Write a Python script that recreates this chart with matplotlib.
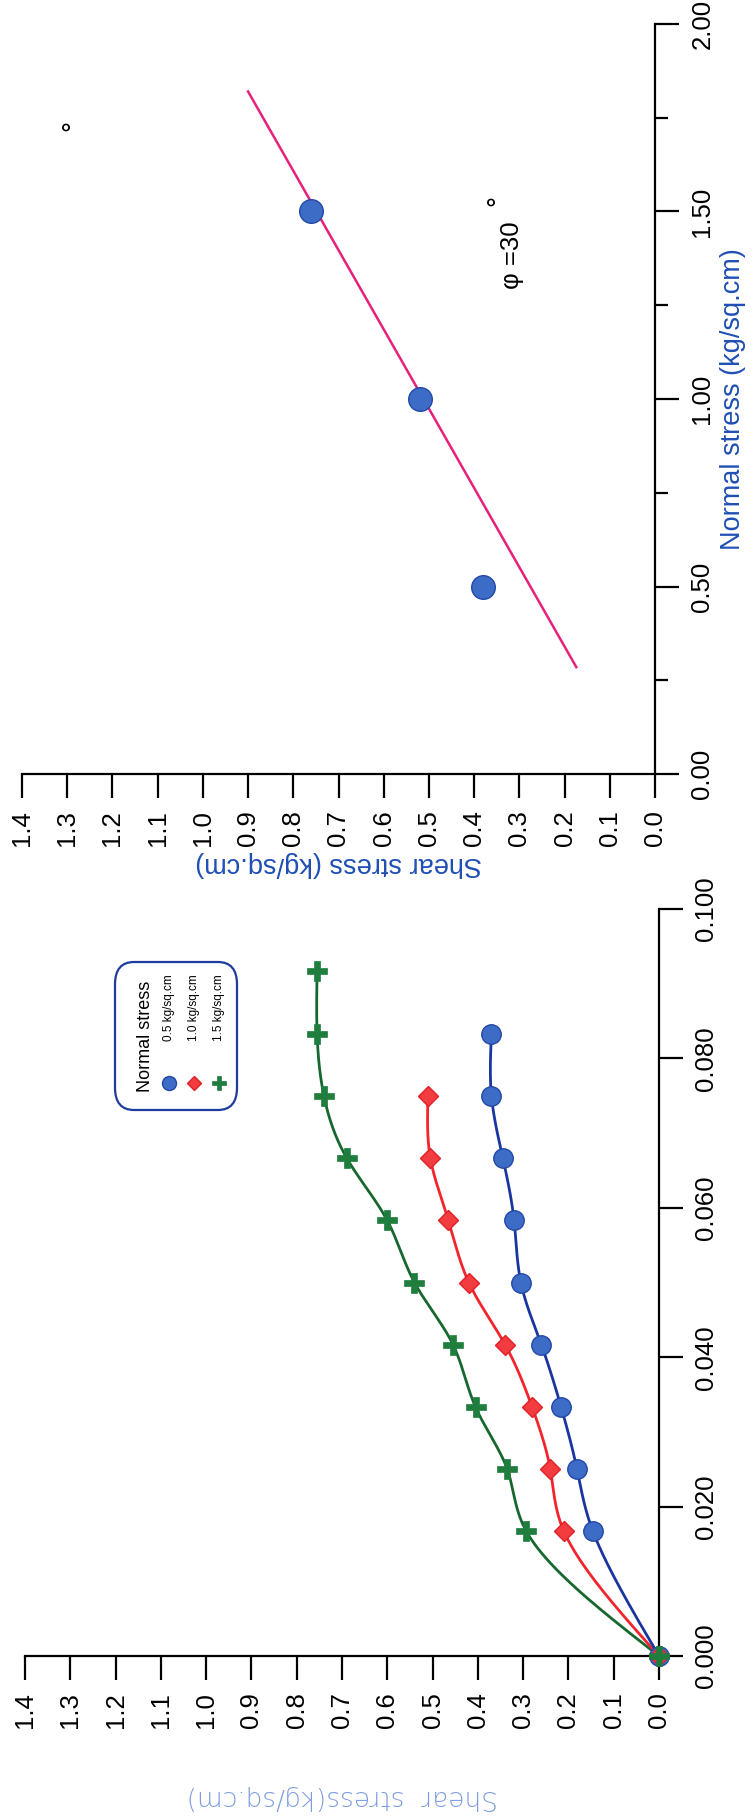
import numpy as np
import matplotlib
matplotlib.use("Agg")
import matplotlib.pyplot as plt
from matplotlib.patches import FancyBboxPatch
from matplotlib.lines import Line2D

plt.rcParams['font.family'] = ['Liberation Sans', 'DejaVu Sans']

# ---------------- data ----------------
strain = [0.0, 0.0167, 0.025, 0.0333, 0.0417, 0.05, 0.0583, 0.0667, 0.075, 0.0833, 0.0917]
shear_05 = [0.0, 0.146, 0.181, 0.216, 0.26, 0.305, 0.32, 0.345, 0.37, 0.37]
shear_10 = [0.0, 0.21, 0.24, 0.28, 0.34, 0.42, 0.465, 0.505, 0.51]
shear_15 = [0.0, 0.293, 0.335, 0.405, 0.455, 0.54, 0.60, 0.69, 0.74, 0.755, 0.755]
legend_labels = ["0.5 kg/sq.cm", "1.0 kg/sq.cm", "1.5 kg/sq.cm"]

normal_stress = [0.5, 1.0, 1.5]
peak_shear = [0.38, 0.52, 0.76]
fit_normal = [0.285, 1.82]
fit_shear = [0.174, 0.90]
phi_text = "φ =30"

shear_ticks = [round(0.1 * i, 1) for i in range(15)]
strain_ticks = [0.0, 0.02, 0.04, 0.06, 0.08, 0.10]
normal_major = [0.0, 0.5, 1.0, 1.5, 2.0]
normal_minor = [0.25, 0.75, 1.25, 1.75]

W, H = 754, 1819
fig = plt.figure(figsize=(W / 100, H / 100), dpi=100)


def box(left, right, top, bottom):
    return [left / W, (H - bottom) / H, (right - left) / W, (bottom - top) / H]


def natural_spline(t, y, tt):
    n = len(t) - 1
    h = np.diff(t)
    A = np.zeros((n + 1, n + 1))
    r = np.zeros(n + 1)
    A[0, 0] = 1
    A[n, n] = 1
    for i in range(1, n):
        A[i, i - 1] = h[i - 1]
        A[i, i] = 2 * (h[i - 1] + h[i])
        A[i, i + 1] = h[i]
        r[i] = 3 * ((y[i + 1] - y[i]) / h[i] - (y[i] - y[i - 1]) / h[i - 1])
    c = np.linalg.solve(A, r)
    b = np.zeros(n)
    d = np.zeros(n)
    for i in range(n):
        b[i] = (y[i + 1] - y[i]) / h[i] - h[i] * (2 * c[i] + c[i + 1]) / 3
        d[i] = (c[i + 1] - c[i]) / (3 * h[i])
    idx = np.clip(np.searchsorted(t, tt, side='right') - 1, 0, n - 1)
    dt = tt - t[idx]
    return y[idx] + b[idx] * dt + c[idx] * dt ** 2 + d[idx] * dt ** 3


def smooth(xs, ys, xr, yr, n=400):
    px = np.asarray(xs, float) / xr
    py = np.asarray(ys, float) / yr
    seg = np.hypot(np.diff(px), np.diff(py))
    t = np.concatenate([[0], np.cumsum(np.sqrt(seg))])
    tt = np.linspace(0, t[-1], n)
    return natural_spline(t, px, tt) * xr, natural_spline(t, py, tt) * yr


TICK_FS = 18.5
AX_LW = 1.6


def style_axes(ax):
    for s in ['top', 'left']:
        ax.spines[s].set_visible(False)
    for s in ['bottom', 'right']:
        ax.spines[s].set_linewidth(AX_LW)
    ax.yaxis.tick_right()
    ax.tick_params(axis='x', direction='out', length=17, width=AX_LW, pad=9,
                   labelsize=TICK_FS, labelrotation=90)
    ax.tick_params(axis='y', which='major', direction='out', length=17.5, width=AX_LW, pad=8,
                   labelsize=TICK_FS, labelrotation=90)
    ax.tick_params(axis='y', which='minor', direction='out', length=9, width=AX_LW)
    ax.set_xticks(shear_ticks)
    ax.set_xticklabels([f"{v:.1f}" for v in shear_ticks])
    ax.set_xlim(1.4, 0.0)
    for lab in ax.get_xticklabels():
        lab.set_ha('center')
        lab.set_va('top')
    ax.patch.set_alpha(0)


# ---------------- bottom panel (strain curves) ----------------
ax1 = fig.add_axes(box(25, 659, 909, 1656))
style_axes(ax1)
ax1.set_ylim(0, 0.1)
ax1.set_yticks(strain_ticks)
ax1.set_yticklabels([f"{v:.3f}" for v in strain_ticks])
for lab in ax1.get_yticklabels():
    lab.set_va('center')
    lab.set_ha('left')

series = [
    (shear_05, '#1a35a0', dict(marker='o', ms=14, mfc='#3d6cc6', mec='#2448a8', mew=1)),
    (shear_10, '#f4242c', dict(marker='D', ms=10, mfc='#f23c40', mec='#e02028', mew=1)),
    (shear_15, '#17682f', dict(marker='P', ms=14, mfc='#1f7d3e', mec='#1f7d3e', mew=0.5)),
]
for sh, col, mk in series[::-1]:
    st = strain[:len(sh)]
    sx, sy = smooth(sh, st, 1.4 / 634, 0.1 / 747)
    ax1.plot(sx, sy, color=col, lw=2.0, zorder=2, clip_on=False)
for sh, col, mk in series:
    st = strain[:len(sh)]
    ax1.plot(sh, st, ls='none', zorder=3, clip_on=False, **mk)

ax1.text(0.5, -0.19, "Shear  stress(kg/sq.cm)", transform=ax1.transAxes,
         rotation=180, ha='center', va='center', fontsize=19, color='#7c9ce0',
         family=['DejaVu Sans'], fontweight='light')

# legend (manual, rotated)
lg_left, lg_right, lg_top, lg_bot = 115, 237, 962, 1110


def afrac(px, py, l=25, r=659, t=909, b=1656):
    return (px - l) / (r - l), (b - py) / (b - t)


x0, y0 = afrac(lg_left, lg_bot)
x1, y1 = afrac(lg_right, lg_top)
ax1.add_patch(FancyBboxPatch((x0, y0), x1 - x0, y1 - y0, transform=ax1.transAxes,
                             boxstyle="round,pad=0,rounding_size=0.03",
                             fc='white', ec='#1e3c9c', lw=1.6, zorder=4, clip_on=False))
tx, ty = afrac(145, 1036)
ax1.text(tx, ty, "Normal stress", transform=ax1.transAxes, rotation=90,
         ha='center', va='center', fontsize=13, zorder=5)
for i, (lab, (sh, col, mk)) in enumerate(zip(legend_labels, series)):
    px = 169 + i * 25
    lx, ly = afrac(px, 1008)
    ax1.text(lx, ly, lab, transform=ax1.transAxes, rotation=90,
             ha='center', va='center', fontsize=8.5, zorder=5)
    mx, my = afrac(px, 1083)
    m = dict(mk)
    m['ms'] = m['ms'] * 0.72
    ax1.add_line(Line2D([mx], [my], transform=ax1.transAxes, ls='none', zorder=5, **m))

# ---------------- top panel (failure envelope) ----------------
ax2 = fig.add_axes(box(22, 655, 24, 774))
style_axes(ax2)
ax2.set_ylim(0, 2.0)
ax2.set_yticks(normal_major)
ax2.set_yticks(normal_minor, minor=True)
ax2.set_yticklabels([f"{v:.2f}" for v in normal_major])
for lab in ax2.get_yticklabels():
    lab.set_va('center')
    lab.set_ha('left')

ax2.plot(fit_shear, fit_normal, color='#e8207c', lw=1.8, zorder=2)
ax2.plot(peak_shear, normal_stress, ls='none', marker='o', ms=17,
         mfc='#3d6cc6', mec='#2448a8', mew=1, zorder=3)

ax2.text(0.316, 1.384, phi_text, rotation=90, ha='center', va='center', fontsize=18.5)
ax2.text(0.345, 1.53, "°", rotation=90, ha='center', va='center', fontsize=20)
ax2.text(1.285, 1.73, "°", rotation=90, ha='center', va='center', fontsize=20)

ax2.text(1.123, 0.5, "Normal stress (kg/sq.cm)", transform=ax2.transAxes, rotation=90,
         ha='center', va='center', fontsize=19.5, color='#1f4fb4')
ax2.text(0.5, -0.12, "Shear stress (kg/sq.cm)", transform=ax2.transAxes, rotation=180,
         ha='center', va='center', fontsize=19.5, color='#1f4fb4')

fig.savefig("out.png", dpi=100)
